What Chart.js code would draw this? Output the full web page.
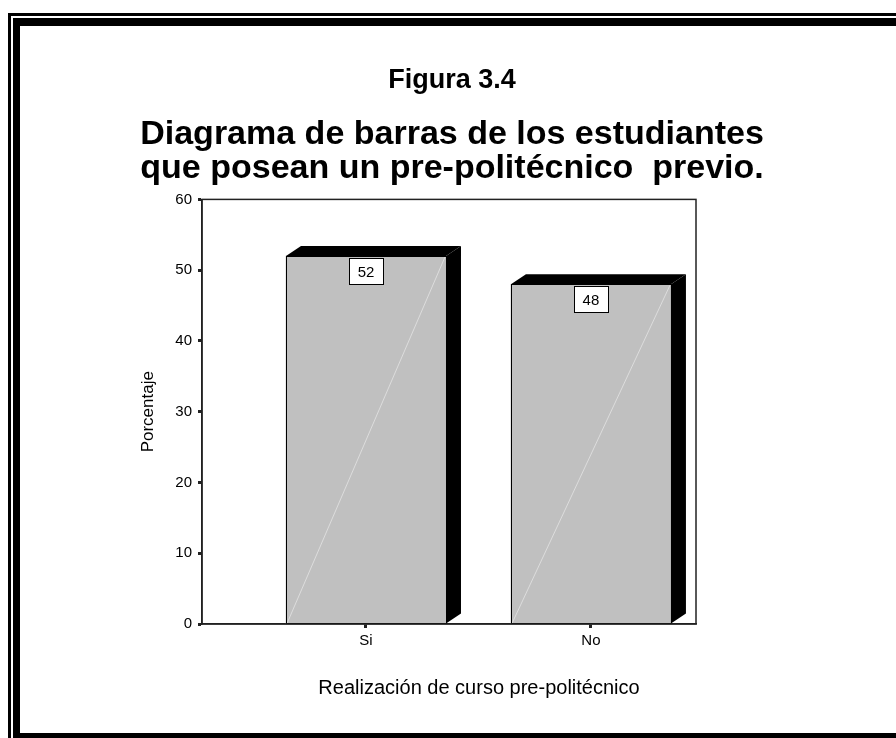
<!DOCTYPE html>
<html>
<head>
<meta charset="utf-8">
<script src="https://cdn.jsdelivr.net/npm/chart.js@4.4.1/dist/chart.umd.min.js"></script>
<style>
  html, body { margin:0; padding:0; background:#fff; overflow:hidden; }
  #wrap { position:relative; width:896px; height:738px; }
  #f1 { position:absolute; left:8px; top:13px; width:1000px; height:1000px; border:3px solid #000; box-sizing:border-box; }
  #f2 { position:absolute; left:13px; top:18px; width:1000px; height:723px; border-style:solid; border-color:#000; border-width:8px 0 8px 7px; box-sizing:border-box; background:#fff; }
  canvas { position:absolute; left:0; top:0; }
</style>
</head>
<body>
<div id="wrap">
  <div id="f1"></div>
  <div id="f2"></div>
  <canvas id="c" width="896" height="738"></canvas>
</div>
<script>
const categories = ['Si', 'No'];
const percentages = [52, 48];
const yTicks = [0, 10, 20, 30, 40, 50, 60];
const figureTitle = 'Figura 3.4';
const chartTitle = ['Diagrama de barras de los estudiantes', 'que posean un pre-politécnico  previo.'];
const xTitle = 'Realización de curso pre-politécnico';
const yTitle = 'Porcentaje';

const FONT = '"Liberation Sans", Arial, Helvetica, sans-serif';
const DEPTH_X = 15, DEPTH_Y = 10;

const bar3d = {
  id: 'bar3d',
  afterDatasetsDraw(chart) {
    const ctx = chart.ctx;
    const meta = chart.getDatasetMeta(0);
    const area = chart.chartArea;
    ctx.save();
    meta.data.forEach((bar, i) => {
      const p = bar.getProps(['x', 'y', 'base', 'width'], true);
      const L = p.x - p.width / 2, R = p.x + p.width / 2, T = p.y, B = p.base;
      // faint diagonal on front face
      ctx.strokeStyle = 'rgba(255,255,255,0.45)';
      ctx.lineWidth = 1;
      ctx.beginPath(); ctx.moveTo(L + 1, B); ctx.lineTo(R - 1, T + 1); ctx.stroke();
      // top face
      ctx.fillStyle = '#000';
      ctx.beginPath();
      ctx.moveTo(L, T); ctx.lineTo(L + DEPTH_X, T - DEPTH_Y); ctx.lineTo(R + DEPTH_X, T - DEPTH_Y); ctx.lineTo(R, T); ctx.closePath();
      ctx.fill();
      // side face
      ctx.beginPath();
      ctx.moveTo(R, T); ctx.lineTo(R + DEPTH_X, T - DEPTH_Y); ctx.lineTo(R + DEPTH_X, B - DEPTH_Y); ctx.lineTo(R, B); ctx.closePath();
      ctx.fill();
      // front outline
      ctx.strokeStyle = '#000';
      ctx.lineWidth = 1;
      ctx.strokeRect(Math.round(L) + 0.5, Math.round(T) + 0.5, Math.round(R - L), Math.round(B - T));
      // value label box
      const val = chart.data.datasets[0].data[i].y;
      const bw = 34, bh = 26;
      const bx = Math.round(p.x - bw / 2) + 0.5, by = Math.round(T + 2) + 0.5;
      ctx.fillStyle = '#fff';
      ctx.fillRect(bx, by, bw, bh);
      ctx.strokeStyle = '#000';
      ctx.strokeRect(bx, by, bw, bh);
      ctx.fillStyle = '#000';
      ctx.font = '15px ' + FONT;
      ctx.textAlign = 'center';
      ctx.textBaseline = 'middle';
      ctx.fillText(String(val), p.x, by + bh / 2 + 1);
    });
    // plot frame
    ctx.strokeStyle = '#222';
    ctx.lineWidth = 1.5;
    ctx.strokeRect(area.left, area.top, area.right - area.left, area.bottom - area.top);
    // x axis title (offset to the right as in the original figure)
    const xs = chart.scales.x;
    ctx.fillStyle = '#000';
    ctx.font = '20px ' + FONT;
    ctx.textAlign = 'center';
    ctx.textBaseline = 'middle';
    ctx.fillText(xTitle, xs.left + (xs.right - xs.left) / 2 + 30, xs.bottom - 12);
    ctx.restore();
  }
};

new Chart(document.getElementById('c'), {
  type: 'bar',
  data: {
    datasets: [{
      data: categories.map((c, i) => ({ x: i, y: percentages[i] })),
      backgroundColor: '#c0c0c0',
      borderWidth: 0,
      barThickness: 160
    }]
  },
  options: {
    responsive: false,
    animation: false,
    layout: { padding: { top: 30, left: 38, right: 30, bottom: 38 } },
    plugins: {
      legend: { display: false },
      tooltip: { enabled: false },
      title: {
        display: true,
        text: figureTitle,
        color: '#000',
        font: { family: FONT, size: 27, weight: 'bold', lineHeight: 1.2 },
        padding: { top: 34, bottom: 0 }
      },
      subtitle: {
        display: true,
        text: chartTitle,
        color: '#000',
        font: { family: FONT, size: 34, weight: 'bold', lineHeight: 1.0 },
        padding: { top: 21, bottom: 14 }
      }
    },
    scales: {
      x: {
        type: 'linear',
        offset: false,
        min: -0.729,
        max: 1.467,
        afterBuildTicks(scale) { scale.ticks = categories.map((c, i) => ({ value: i })); },
        afterFit(scale) { scale.height = 738 - 38 - 624; },
        ticks: {
          callback: (v) => categories[v],
          color: '#000',
          font: { family: FONT, size: 15 },
          padding: 4,
          maxRotation: 0,
          autoSkip: false
        },
        grid: { offset: false, drawOnChartArea: false, drawTicks: true, tickLength: 4, tickWidth: 3, tickColor: '#222' },
        border: { display: true, color: '#222', width: 1.5 },
        title: { display: false, text: xTitle }
      },
      y: {
        min: 0,
        max: 60,
        afterBuildTicks(scale) { scale.ticks = yTicks.map(v => ({ value: v })); },
        afterFit(scale) { scale.width = 202 - 38; },
        ticks: {
          color: '#000',
          font: { family: FONT, size: 15 },
          padding: 6
        },
        grid: { drawOnChartArea: false, drawTicks: true, tickLength: 4, tickWidth: 3, tickColor: '#222' },
        border: { display: true, color: '#222', width: 1.5 },
        title: {
          display: true,
          text: yTitle,
          color: '#000',
          font: { family: FONT, size: 17, lineHeight: 1.2 },
          padding: { top: 100, bottom: 0 }
        }
      },
      yRightSpace: {
        position: 'right',
        display: true,
        min: 0,
        max: 60,
        afterFit(scale) { scale.width = 896 - 30 - 696; },
        ticks: { display: false },
        grid: { display: false, drawTicks: false },
        border: { display: false }
      }
    }
  },
  plugins: [bar3d]
});
</script>
</body>
</html>
